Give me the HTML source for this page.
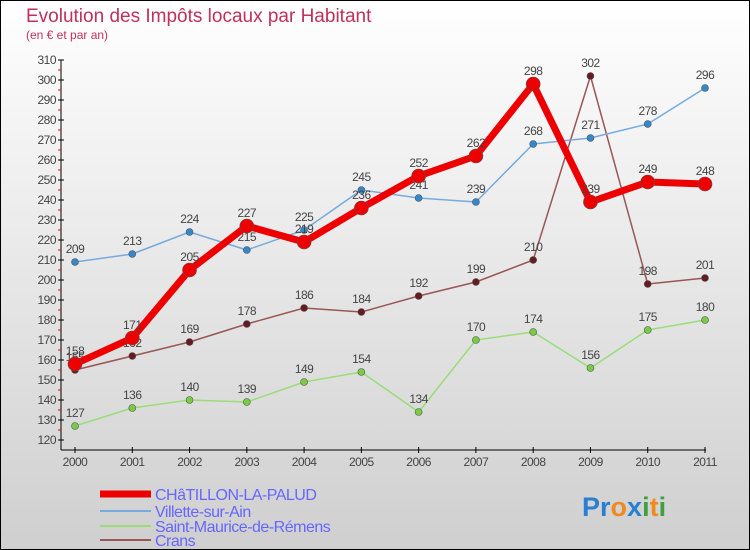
<!DOCTYPE html>
<html><head><meta charset="utf-8"><style>
body{margin:0}
#c{width:750px;height:550px;position:relative;overflow:hidden;font-family:"Liberation Sans",sans-serif}
</style></head><body>
<div id="c">
<svg id="s" width="750" height="550" xmlns="http://www.w3.org/2000/svg" font-family="Liberation Sans, sans-serif">
<defs><linearGradient id="bg" x1="0" y1="0" x2="0" y2="1"><stop offset="0" stop-color="#ffffff"/><stop offset="1" stop-color="#cfcfcf"/></linearGradient></defs>
<rect x="0.5" y="0.5" width="749" height="549" fill="url(#bg)" stroke="#000"/>
<text x="26" y="22" font-size="19" fill="#c0305a">Evolution des Impôts locaux par Habitant</text>
<text x="26" y="39" font-size="12" fill="#c0305a">(en € et par an)</text>
<g id="axes"></g>
<g id="series"></g>
<g id="legend"></g>
<g font-size="27" font-weight="bold">
<text x="582" y="516"><tspan fill="#2a7fd0">Pr</tspan><tspan fill="#f08a20">o</tspan><tspan fill="#2a7fd0">x</tspan><tspan fill="#40a040">i</tspan><tspan fill="#f08a20">t</tspan><tspan fill="#40a040">i</tspan></text>
</g>
</svg>
</div>
<script>
const years=[2000,2001,2002,2003,2004,2005,2006,2007,2008,2009,2010,2011];
const yTicks=[120,130,140,150,160,170,180,190,200,210,220,230,240,250,260,270,280,290,300,310];
const chatillon=[158,171,205,227,219,236,252,262,298,239,249,248];
const villette=[209,213,224,215,225,245,241,239,268,271,278,296];
const saintMaurice=[127,136,140,139,149,154,134,170,174,156,175,180];
const crans=[155,162,169,178,186,184,192,199,210,302,198,201];
const NS="http://www.w3.org/2000/svg";
const X=i=>75+i*(630/11);
const Y=v=>440-(v-120)*2;
function mk(t,a,p){const e=document.createElementNS(NS,t);for(const k in a)e.setAttribute(k,a[k]);p.appendChild(e);return e;}
const ax=document.getElementById('axes');
let e=mk('line',{x1:61,y1:60,x2:61,y2:450,stroke:'#000'},ax);


e=mk('line',{x1:61,y1:450,x2:706,y2:450,stroke:'#000'},ax);


yTicks.forEach(v=>{
 mk('line',{x1:58,y1:Y(v),x2:64,y2:Y(v),stroke:'#000'},ax);
 if(v<310)mk('line',{x1:58,y1:Y(v+5),x2:61,y2:Y(v+5),stroke:'#e00'},ax);
 const t=mk('text',{x:56,y:Y(v)+4,'text-anchor':'end','font-size':12,fill:'#444','letter-spacing':'-0.5'},ax);
 t.textContent=v;
 
 
});
years.forEach((y,i)=>{
 mk('line',{x1:X(i),y1:447,x2:X(i),y2:453,stroke:'#000'},ax);
 const t=mk('text',{x:X(i),y:466,'text-anchor':'middle','font-size':12,fill:'#444','letter-spacing':'-0.5'},ax);
 t.textContent=y;
 
 
});
const sg=document.getElementById('series');
function series(data,color,dot,w,r,name){
 const g=mk('g',{},sg);
 
 
 const pl=mk('polyline',{points:data.map((v,i)=>X(i)+','+Y(v)).join(' '),fill:'none',stroke:color,'stroke-width':w,'stroke-linejoin':'round'},g);
 
 
 data.forEach((v,i)=>{
  const c=mk('circle',{cx:X(i),cy:Y(v),r:r,fill:dot,stroke:'#555','stroke-width':0.6},g);
  
  
  const t=mk('text',{x:X(i),y:Y(v)-9,'text-anchor':'middle','font-size':12,fill:'#444','letter-spacing':'-0.5'},g);
  t.textContent=v;
  
  
 });
}
series(saintMaurice,'#99dd77','#77cc44',1.5,3.5,'saint-maurice');
series(crans,'#9a5555','#661a22',1.5,3.5,'crans');
series(villette,'#77aadd','#3388cc',1.5,3.5,'villette');
series(chatillon,'#ee0000','#ee0000',7,7,'chatillon');
const lg=document.getElementById('legend');
[['CHâTILLON-LA-PALUD','#ee0000',7,491],['Villette-sur-Ain','#77aadd',2,508],['Saint-Maurice-de-Rémens','#99dd77',2,523],['Crans','#9a5555',2,537]].forEach(l=>{
 const g=mk('g',{},lg);
 
 
 mk('line',{x1:100,y1:l[3]+3,x2:151,y2:l[3]+3,stroke:l[1],'stroke-width':l[2]},g);
 const t=mk('text',{x:155,y:l[3]+9,'font-size':16,fill:'#6666ff','letter-spacing':'-0.5'},g);
 t.textContent=l[0];
});
</script>
</body></html>
